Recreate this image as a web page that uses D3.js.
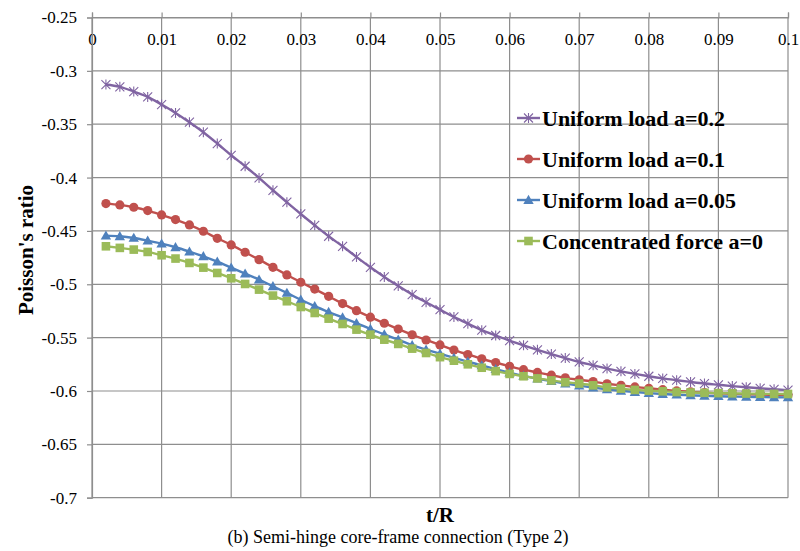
<!DOCTYPE html>
<html>
<head>
<meta charset="utf-8">
<script src="https://cdn.jsdelivr.net/npm/d3@7"></script>
<style>
  html, body { margin: 0; padding: 0; background: #fff; }
  svg { display: block; }
</style>
</head>
<body>
<svg id="chart" width="800" height="551"></svg>
<script>
// t/R sample positions
const tR = [0.002,0.004,0.006,0.008,0.010,0.012,0.014,0.016,0.018,0.020,
            0.022,0.024,0.026,0.028,0.030,0.032,0.034,0.036,0.038,0.040,
            0.042,0.044,0.046,0.048,0.050,0.052,0.054,0.056,0.058,0.060,
            0.062,0.064,0.066,0.068,0.070,0.072,0.074,0.076,0.078,0.080,
            0.082,0.084,0.086,0.088,0.090,0.092,0.094,0.096,0.098,0.100];

// Poisson's ratio, uniform load a=0.2
const uniform02 = [-0.3128,-0.3150,-0.3194,-0.3244,-0.3316,-0.3394,-0.3481,-0.3575,-0.3681,-0.3791,
                   -0.3894,-0.4003,-0.4119,-0.4231,-0.4341,-0.4447,-0.4550,-0.4644,-0.4744,-0.4841,
                   -0.4931,-0.5016,-0.5097,-0.5169,-0.5238,-0.5306,-0.5369,-0.5430,-0.5480,-0.5528,
                   -0.5572,-0.5614,-0.5654,-0.5692,-0.5728,-0.5759,-0.5790,-0.5816,-0.5840,-0.5862,
                   -0.5882,-0.5899,-0.5915,-0.5930,-0.5942,-0.5954,-0.5965,-0.5975,-0.5984,-0.5992];

// Poisson's ratio, uniform load a=0.1
const uniform01 = [-0.4244,-0.4256,-0.4278,-0.4309,-0.4350,-0.4394,-0.4444,-0.4503,-0.4569,-0.4631,
                   -0.4700,-0.4769,-0.4841,-0.4912,-0.4981,-0.5045,-0.5113,-0.5181,-0.5247,-0.5308,
                   -0.5365,-0.5420,-0.5473,-0.5522,-0.5568,-0.5617,-0.5658,-0.5698,-0.5734,-0.5768,
                   -0.5800,-0.5826,-0.5852,-0.5877,-0.5895,-0.5912,-0.5932,-0.5947,-0.5962,-0.5975,
                   -0.5988,-0.5999,-0.6008,-0.6016,-0.6022,-0.6027,-0.6031,-0.6034,-0.6036,-0.6038];

// Poisson's ratio, uniform load a=0.05
const uniform005 = [-0.4544,-0.4550,-0.4566,-0.4591,-0.4619,-0.4653,-0.4694,-0.4738,-0.4788,-0.4844,
                    -0.4900,-0.4956,-0.5019,-0.5081,-0.5145,-0.5205,-0.5260,-0.5312,-0.5364,-0.5419,
                    -0.5470,-0.5519,-0.5570,-0.5613,-0.5650,-0.5690,-0.5725,-0.5760,-0.5795,-0.5828,
                    -0.5858,-0.5885,-0.5908,-0.5930,-0.5950,-0.5968,-0.5984,-0.5998,-0.6010,-0.6020,
                    -0.6028,-0.6035,-0.6040,-0.6045,-0.6049,-0.6052,-0.6055,-0.6057,-0.6059,-0.6060];

// Poisson's ratio, concentrated force a=0
const concentrated0 = [-0.4644,-0.4659,-0.4675,-0.4697,-0.4728,-0.4759,-0.4800,-0.4844,-0.4894,-0.4944,
                       -0.4997,-0.5050,-0.5106,-0.5159,-0.5213,-0.5269,-0.5322,-0.5372,-0.5425,-0.5472,
                       -0.5519,-0.5559,-0.5603,-0.5644,-0.5683,-0.5716,-0.5750,-0.5782,-0.5814,-0.5840,
                       -0.5862,-0.5882,-0.5901,-0.5918,-0.5930,-0.5947,-0.5966,-0.5978,-0.5990,-0.5997,
                       -0.6003,-0.6010,-0.6014,-0.6017,-0.6020,-0.6022,-0.6024,-0.6026,-0.6027,-0.6028];

const seriesNames = ["Uniform load a=0.2", "Uniform load a=0.1", "Uniform load a=0.05", "Concentrated force a=0"];
const seriesValues = [uniform02, uniform01, uniform005, concentrated0];
const seriesColors = ["#8064A2", "#C0504D", "#4F81BD", "#9BBB59"];
const seriesMarkers = ["star", "circle", "triangle", "square"];

const xTicks = [0, 0.01, 0.02, 0.03, 0.04, 0.05, 0.06, 0.07, 0.08, 0.09, 0.1];
const xTickLabels = ["0", "0.01", "0.02", "0.03", "0.04", "0.05", "0.06", "0.07", "0.08", "0.09", "0.1"];
const yTicks = [-0.25, -0.3, -0.35, -0.4, -0.45, -0.5, -0.55, -0.6, -0.65, -0.7];
const yTickLabels = ["-0.25", "-0.3", "-0.35", "-0.4", "-0.45", "-0.5", "-0.55", "-0.6", "-0.65", "-0.7"];

const FONT = "'Liberation Serif', Tinos, 'Times New Roman', 'DejaVu Serif', serif";

const svg = d3.select("#chart").attr("font-family", FONT);
const plot = { left: 92, right: 788, top: 17.5, bottom: 497.7 };

const x = d3.scaleLinear().domain([0, 0.1]).range([plot.left, plot.right]);
const y = d3.scaleLinear().domain([-0.25, -0.7]).range([plot.top, plot.bottom]);

const gridColor = "#8e8e8e";

// gridlines
const grid = svg.append("g");
grid.selectAll("line.v").data(xTicks).join("line")
  .attr("x1", d => x(d)).attr("x2", d => x(d))
  .attr("y1", plot.top).attr("y2", plot.bottom)
  .attr("stroke", gridColor).attr("stroke-width", 1.2);
grid.selectAll("line.h").data(yTicks).join("line")
  .attr("x1", plot.left).attr("x2", plot.right)
  .attr("y1", d => y(d)).attr("y2", d => y(d))
  .attr("stroke", gridColor).attr("stroke-width", 1.2);

// top (horizontal) axis: ticks point outward, labels sit inside the plot
const xAxis = svg.append("g")
  .attr("transform", `translate(0,${plot.top})`)
  .call(d3.axisTop(x).tickValues(xTicks).tickSize(5)
        .tickFormat((d, i) => xTickLabels[i]));
xAxis.attr("font-family", FONT).attr("font-size", 17);
xAxis.select(".domain").attr("stroke", gridColor).attr("stroke-width", 1.2);
xAxis.selectAll(".tick line").attr("stroke", gridColor).attr("stroke-width", 1.2);
xAxis.selectAll(".tick text")
  .attr("y", 27).attr("dy", null)
  .attr("fill", "#000");

// left axis
const yAxis = svg.append("g")
  .attr("transform", `translate(${plot.left},0)`)
  .call(d3.axisLeft(y).tickValues(yTicks).tickSize(5).tickPadding(10)
        .tickFormat((d, i) => yTickLabels[i]));
yAxis.attr("font-family", FONT).attr("font-size", 17);
yAxis.select(".domain").attr("stroke", gridColor).attr("stroke-width", 1.2);
yAxis.selectAll(".tick line").attr("stroke", gridColor).attr("stroke-width", 1.2);
yAxis.selectAll(".tick text").attr("fill", "#000");

// marker shapes
function drawMarker(g, type, color, cx, cy) {
  if (type === "star") {
    const s = 4.5;
    const p = `M${cx - s},${cy - s}L${cx + s},${cy + s}M${cx - s},${cy + s}L${cx + s},${cy - s}M${cx},${cy - s - 0.5}L${cx},${cy + s + 0.5}`;
    g.append("path").attr("d", p).attr("stroke", color).attr("stroke-width", 1.1).attr("fill", "none");
  } else if (type === "circle") {
    g.append("circle").attr("cx", cx).attr("cy", cy).attr("r", 4.6).attr("fill", color);
  } else if (type === "triangle") {
    const s = 5.2;
    g.append("path")
      .attr("d", `M${cx},${cy - s}L${cx + s},${cy + s * 0.75}L${cx - s},${cy + s * 0.75}Z`)
      .attr("fill", color);
  } else if (type === "square") {
    const s = 4.3;
    g.append("rect").attr("x", cx - s).attr("y", cy - s).attr("width", 2 * s).attr("height", 2 * s)
      .attr("fill", color);
  }
}

const line = d3.line().x(d => x(d[0])).y(d => y(d[1])).curve(d3.curveMonotoneX);

seriesValues.forEach((vals, si) => {
  const pts = tR.map((t, i) => [t, vals[i]]);
  const g = svg.append("g");
  g.append("path").datum(pts).attr("d", line)
    .attr("fill", "none").attr("stroke", seriesColors[si]).attr("stroke-width", 2.4);
  pts.forEach(p => drawMarker(g, seriesMarkers[si], seriesColors[si], x(p[0]), y(p[1])));
});

// legend
const legendRows = [118, 159, 200, 241];
const legend = svg.append("g");
seriesNames.forEach((name, i) => {
  const ly = legendRows[i];
  legend.append("line").attr("x1", 517).attr("x2", 540).attr("y1", ly).attr("y2", ly)
    .attr("stroke", seriesColors[i]).attr("stroke-width", 2.4);
  drawMarker(legend, seriesMarkers[i], seriesColors[i], 528.5, ly);
  legend.append("text").attr("x", 542).attr("y", ly + 7.5)
    .attr("font-family", FONT)
    .attr("font-size", 22).attr("font-weight", "bold").attr("fill", "#000")
    .text(name);
});

// axis titles
svg.append("text")
  .attr("transform", "translate(33,250) rotate(-90)")
  .attr("text-anchor", "middle")
  .attr("font-family", FONT)
  .attr("font-size", 21).attr("font-weight", "bold")
  .text("Poisson's ratio");

svg.append("text")
  .attr("x", 440).attr("y", 522)
  .attr("text-anchor", "middle")
  .attr("font-family", FONT)
  .attr("font-size", 21).attr("font-weight", "bold")
  .text("t/R");

svg.append("text")
  .attr("x", 398).attr("y", 543)
  .attr("text-anchor", "middle")
  .attr("font-family", FONT)
  .attr("font-size", 18)
  .text("(b) Semi-hinge core-frame connection (Type 2)");
</script>
</body>
</html>
